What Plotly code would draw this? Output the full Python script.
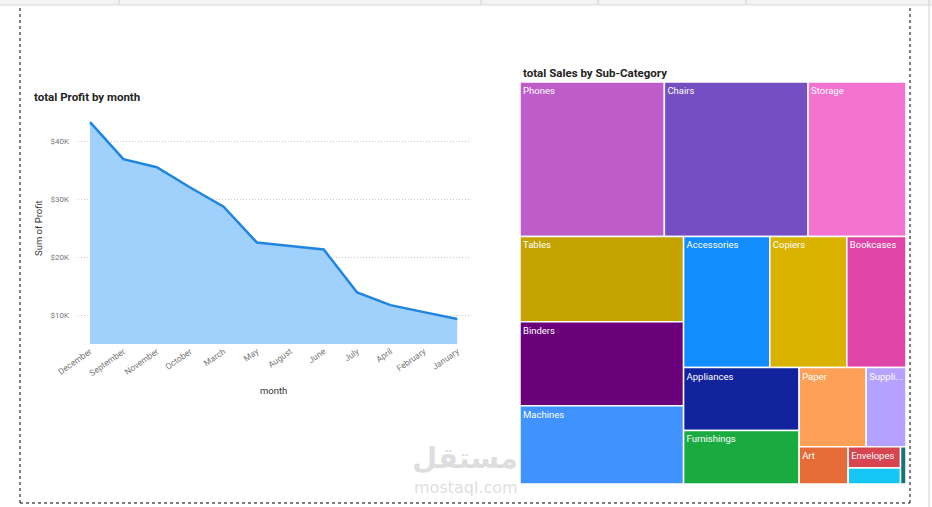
import plotly.graph_objects as go

W, H = 932, 507

# ---- data ----
months = ["December", "September", "November", "October", "March", "May",
          "August", "June", "July", "April", "February", "January"]
profit = [43300, 36900, 35500, 32000, 28700, 22500, 21900, 21300, 13900, 11700, 10500, 9300]

subcats = ["Phones", "Chairs", "Storage", "Tables", "Binders", "Machines", "Accessories",
           "Copiers", "Bookcases", "Appliances", "Furnishings", "Paper", "Supplies",
           "Art", "Envelopes", "Labels", "Fasteners"]
# label text as displayed in the tiles (truncated / hidden where the tile is too small)
subcat_display = ["Phones", "Chairs", "Storage", "Tables", "Binders", "Machines", "Accessories",
                  "Copiers", "Bookcases", "Appliances", "Furnishings", "Paper", "Suppli...",
                  "Art", "Envelopes", "", ""]
sales = [330007, 328449, 223844, 206966, 203413, 189239, 167380, 149528, 114880,
         107532, 91705, 78479, 46674, 27119, 16476, 12486, 3024]
sub_colors = {
    "Accessories": "#118DFF", "Appliances": "#12239E", "Art": "#E66C37", "Binders": "#6B007B",
    "Bookcases": "#E044A7", "Chairs": "#744EC2", "Copiers": "#D9B300", "Envelopes": "#D64550",
    "Fasteners": "#197278", "Furnishings": "#1AAB40", "Labels": "#15C6F4", "Machines": "#4092FF",
    "Paper": "#FFA058", "Phones": "#BE5DC9", "Storage": "#F472D0", "Supplies": "#B5A1FF",
    "Tables": "#C4A200",
}
y_ticks = [10000, 20000, 30000, 40000]
y_ticklabels = ["$10K", "$20K", "$30K", "$40K"]


def px_x(x):
    return x / W


def px_y(y):
    return 1 - y / H


FONT = "Roboto"

fig = go.Figure()

fig.add_trace(go.Scatter(
    x=months, y=profit, mode="lines", fill="tozeroy",
    line=dict(color="#1F86E0", width=2.5),
    fillcolor="#A0D1FD", hoverinfo="x+y", showlegend=False,
    xaxis="x", yaxis="y",
))

fig.add_trace(go.Treemap(
    labels=subcats, parents=[""] * len(subcats), values=sales,
    text=subcat_display, texttemplate="%{text}",
    marker=dict(colors=[sub_colors[s] for s in subcats],
                line=dict(color="white", width=1.5),
                pad=dict(t=0, l=0, r=0, b=0)),
    textposition="top left",
    textfont=dict(family=FONT, size=9.5, color="white"),
    tiling=dict(packing="squarify", squarifyratio=1.618034, pad=0),
    pathbar=dict(visible=False),
    sort=True,
    domain=dict(x=[px_x(520), px_x(906)], y=[px_y(484), px_y(82)]),
    hoverinfo="label+value",
))

shapes = [
    # top ribbon
    dict(type="rect", xref="paper", yref="paper", x0=0, x1=1, y0=px_y(5), y1=1,
         fillcolor="#F3F3F3", line=dict(width=0), layer="below"),
    dict(type="line", xref="paper", yref="paper", x0=0, x1=1, y0=px_y(5), y1=px_y(5),
         line=dict(color="#DADADA", width=1)),
    # dotted frame
    dict(type="line", xref="paper", yref="paper", x0=px_x(20), x1=px_x(20), y0=px_y(503), y1=px_y(8),
         line=dict(color="#555555", width=1.5, dash="dot")),
    dict(type="line", xref="paper", yref="paper", x0=px_x(910), x1=px_x(910), y0=px_y(503), y1=px_y(8),
         line=dict(color="#555555", width=1.5, dash="dot")),
    dict(type="line", xref="paper", yref="paper", x0=px_x(20), x1=px_x(910), y0=px_y(503), y1=px_y(503),
         line=dict(color="#555555", width=1.5, dash="dot")),
    dict(type="line", xref="paper", yref="paper", x0=px_x(929), x1=px_x(929), y0=0, y1=1,
         line=dict(color="#D0D0D0", width=1)),
]
for sx in [119, 481, 598, 746]:
    shapes.append(dict(type="line", xref="paper", yref="paper", x0=px_x(sx), x1=px_x(sx),
                       y0=px_y(5), y1=1, line=dict(color="#D0D0D0", width=1)))

annotations = [
    dict(text="<b>total Profit by month</b>", x=px_x(32), y=px_y(97), xref="paper", yref="paper",
         xanchor="left", yanchor="middle", showarrow=False,
         font=dict(family=FONT, size=11.5, color="#252423")),
    dict(text="<b>total Sales by Sub-Category</b>", x=px_x(521), y=px_y(73), xref="paper", yref="paper",
         xanchor="left", yanchor="middle", showarrow=False,
         font=dict(family=FONT, size=11.5, color="#252423")),
    dict(text="Sum of Profit", x=px_x(38), y=px_y(228), xref="paper", yref="paper",
         xanchor="center", yanchor="middle", showarrow=False, textangle=-90,
         font=dict(family=FONT, size=9.5, color="#333333")),
    dict(text="month", x=px_x(273), y=px_y(390), xref="paper", yref="paper",
         xanchor="center", yanchor="middle", showarrow=False,
         font=dict(family=FONT, size=9.5, color="#333333")),
    # watermark
    dict(text="<b>مستقل</b>", x=px_x(465), y=px_y(458), xref="paper", yref="paper",
         xanchor="center", yanchor="middle", showarrow=False,
         font=dict(family="DejaVu Sans", size=29, color="rgba(200,200,200,0.6)")),
    dict(text="mostaql.com", x=px_x(466), y=px_y(487), xref="paper", yref="paper",
         xanchor="center", yanchor="middle", showarrow=False,
         font=dict(family="DejaVu Sans", size=16, color="rgba(200,200,200,0.6)")),
]

fig.update_layout(
    width=W, height=H, margin=dict(l=0, r=0, t=0, b=0, pad=0),
    paper_bgcolor="white", plot_bgcolor="white",
    font=dict(family=FONT),
    showlegend=False,
    shapes=shapes, annotations=annotations,
    xaxis=dict(domain=[px_x(78), px_x(470)], range=[-0.36, 11.38], type="category",
               showgrid=False, zeroline=False, showline=False, ticks="",
               tickangle=-35, tickfont=dict(family=FONT, size=8.5, color="#777777"),
               automargin=False, anchor="y"),
    yaxis=dict(domain=[px_y(344), px_y(118)], range=[5000, 44000],
               tickvals=y_ticks, ticktext=y_ticklabels,
               showgrid=True, gridcolor="#C8C8C8", griddash="1px,2px", gridwidth=1,
               zeroline=False, showline=False, ticks="",
               ticklabelstandoff=8,
               tickfont=dict(family=FONT, size=8, color="#777777"),
               automargin=False, anchor="x"),
)

fig.write_html("out.html")
